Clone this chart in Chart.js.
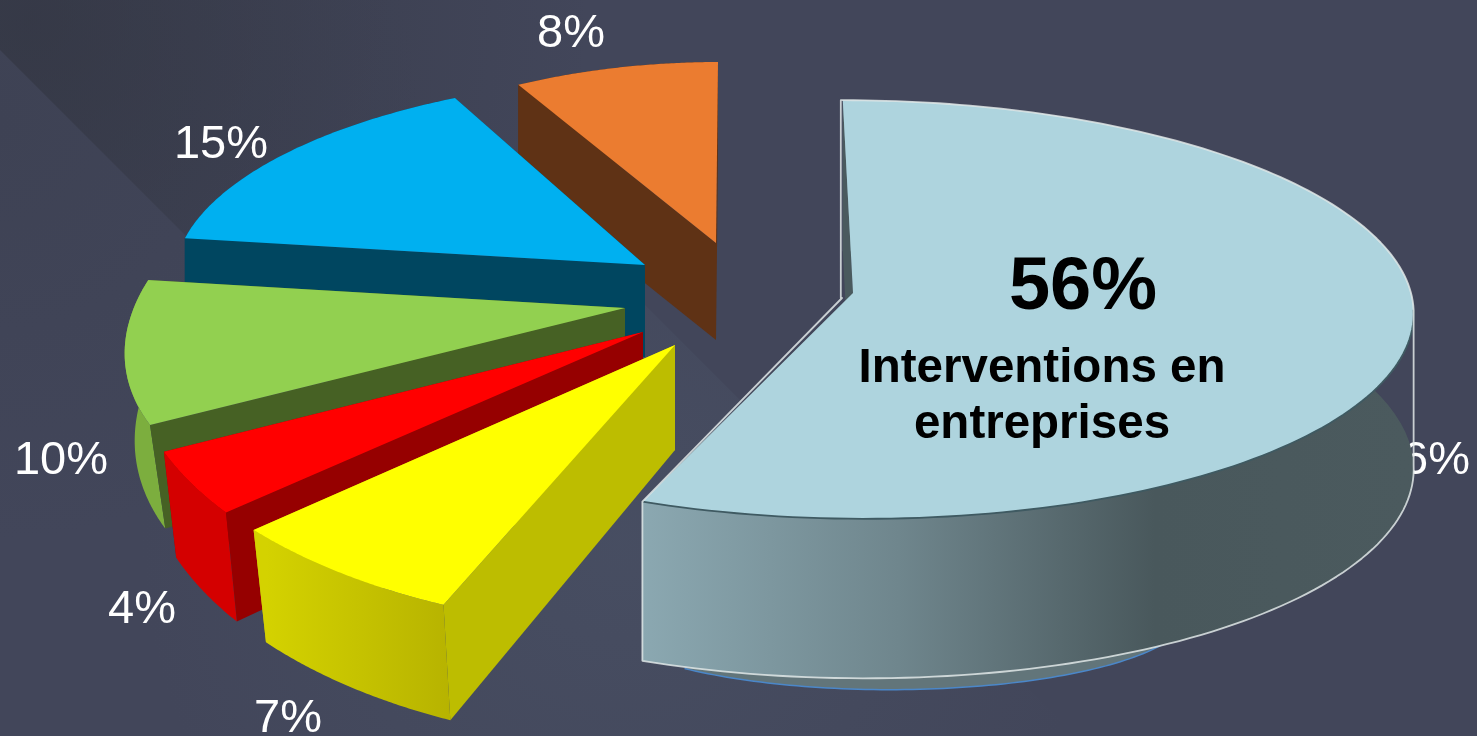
<!DOCTYPE html>
<html>
<head>
<meta charset="utf-8">
<title>Interventions en entreprises</title>
<script src="https://cdn.jsdelivr.net/npm/chart.js@4"></script>
<style>
    html, body { margin: 0; padding: 0; overflow: hidden; }
    body {
        position: relative; width: 1477px; height: 736px;
        background-color: #42465a;
        background-image: radial-gradient(circle 420px at 0 120px, #3e4254, rgba(66,70,90,0));
    }
    /* dark corner top left and the paler wedge behind the slices */
    body::before, body::after { content: ''; position: absolute; left: 0; top: 0; width: 1477px; height: 736px; }
    body::before {
        background: radial-gradient(circle 560px at 30px 20px, rgba(48,51,62,.62), rgba(48,51,62,0));
        clip-path: polygon(0 50px, 500px 550px, 1100px 0, 0 0);
    }
    body::after {
        background: radial-gradient(circle 480px at 620px 540px, rgba(78,88,108,.42), rgba(78,88,108,0));
        clip-path: polygon(600px 260px, 1100px 760px, 0 760px, 0 260px);
    }
    canvas { display: block; position: relative; z-index: 1; }
</style>
</head>
<body>
<canvas id="myChart" width="1477" height="736"></canvas>
<script>
const categories = ['Interventions en entreprises', 'Part 2', 'Part 3', 'Part 4', 'Part 5', 'Part 6'];
const shares = [56, 7, 4, 10, 15, 8];
const faceColors = ['#aed4de', '#ffff00', '#ff0000', '#92d050', '#00b0f0', '#eb7c30'];
const cutColors = ['#4a5a5e', '#bdbd00', '#960000', '#466124', '#004660', '#5f3215'];
const wallColors = [
    ['#8ba8b1', '#6f868d', '#49585c', '#4b5a5e'],
    ['#d4d200', '#b7b300'],
    ['#d40000', '#d40000'],
    ['#7cae3e', '#7cae3e'],
    ['#004660', '#004660'],
    ['#5f3215', '#5f3215']
];

// how each exploded slice sits on the page, the big one has some perspective (k)
const views = [
    { x: 853, y: 293, a: 558, b: 0, c: 11, d: 208, k: 0.0788, drop: 155, la: 558, lc: 11, ys: 1.02 },
    { x: 675, y: 345, a: 548, b: 14, c: -32, d: 285, k: 0, drop: 105, la: 532, lc: -31, ys: 1.04 },
    { x: 643, y: 332, a: 511, b: 20, c: -65, d: 285, k: 0, drop: 100, la: 498, lc: -63, ys: 1.05 },
    { x: 625, y: 308, a: 492, b: -2, c: -91, d: 239, k: 0, drop: 92, la: 485, lc: -72, ys: 1.1 },
    { x: 645, y: 265, a: 469, b: 3, c: -41, d: 189, k: 0, drop: 92, la: 469, lc: -41, ys: 1 },
    { x: 716, y: 243, a: 414, b: -1, c: -2, d: 181, k: 0, drop: 97, la: 414, lc: -2, ys: 1 }
];
const underView = { x: 890, y: 605, a: 300, b: 0, c: 0, d: 78, k: 0.0788, drop: 0, la: 300, lc: 0, ys: 1 };

const labelSpots = [[1423, 461], [288, 719], [142, 610], [61, 461], [221, 145], [571, 34]];

function project(v, angle, lower) {
    const cos = Math.cos(angle), sin = Math.sin(angle);
    const w = 1 - v.k * sin;
    if (lower) {
        return [v.x + (v.la * cos + v.lc * sin) / w, v.y + v.drop + v.ys * (v.b * cos + v.d * sin) / w];
    }
    return [v.x + (v.a * cos + v.c * sin) / w, v.y + (v.b * cos + v.d * sin) / w];
}

function traceArc(ctx, v, from, to, lower, first) {
    const steps = 80;
    for (let i = 0; i <= steps; i++) {
        const p = project(v, from + (to - from) * i / steps, lower);
        if (i === 0 && first) ctx.moveTo(p[0], p[1]);
        else ctx.lineTo(p[0], p[1]);
    }
}

function cutWall(ctx, v, angle, color) {
    const top = project(v, angle, false), bottom = project(v, angle, true);
    ctx.beginPath();
    ctx.moveTo(v.x, v.y);
    ctx.lineTo(top[0], top[1]);
    ctx.lineTo(bottom[0], bottom[1]);
    ctx.lineTo(v.x, v.y + v.drop);
    ctx.closePath();
    ctx.fillStyle = color;
    ctx.fill();
}

function drawSlice(ctx, arc, i) {
    const v = views[i];
    const start = arc.startAngle, end = arc.endAngle;

    cutWall(ctx, v, end, cutColors[i]);

    // curved side, shaded from left to right
    const p0 = project(v, start, true), p1 = project(v, end, true);
    const left = i === 0 ? p1[0] : Math.min(p0[0], p1[0]);
    const right = i === 0 ? v.x + v.a : Math.max(p0[0], p1[0]);
    const grad = ctx.createLinearGradient(left, 0, right, 0);
    wallColors[i].forEach((c, n) => grad.addColorStop(n / (wallColors[i].length - 1), c));
    ctx.beginPath();
    traceArc(ctx, v, start, end, false, true);
    traceArc(ctx, v, end, start, true, false);
    ctx.closePath();
    ctx.fillStyle = grad;
    ctx.fill();

    cutWall(ctx, v, start, cutColors[i]);

    ctx.beginPath();
    ctx.moveTo(v.x, v.y);
    traceArc(ctx, v, start, end, false, false);
    ctx.closePath();
    ctx.fillStyle = arc.options.backgroundColor;
    ctx.fill();
}

// the pasted big slice has a rough pale outline and a dark front rim
function drawBigEdges(ctx, arc) {
    const v = views[0];
    const start = arc.startAngle, end = arc.endAngle, turn = 0.08;
    const pale = 'rgba(225,232,232,.85)';
    ctx.lineWidth = 1.8;
    ctx.lineJoin = 'round';

    ctx.strokeStyle = '#3f5a62';
    ctx.beginPath();
    traceArc(ctx, v, turn, end, false, true);
    ctx.stroke();

    const s0 = project(v, start, false);
    const e0 = project(v, end, false);
    const r1 = project(v, turn, true);

    ctx.strokeStyle = pale;
    ctx.beginPath();
    traceArc(ctx, v, start, turn, false, true);
    ctx.lineTo(r1[0], r1[1]);
    traceArc(ctx, v, turn, end, true, false);
    ctx.lineTo(e0[0], e0[1]);
    ctx.lineTo(v.x - 11, v.y + 5);
    ctx.lineTo(s0[0] - 2, v.y + 5);
    ctx.lineTo(s0[0] - 2, s0[1]);
    ctx.lineTo(s0[0] + 6, s0[1]);
    ctx.stroke();
}

function drawUnderlay(ctx) {
    const from = 0.35, to = 2.27;
    ctx.beginPath();
    traceArc(ctx, underView, from, to, false, true);
    ctx.closePath();
    ctx.fillStyle = '#62757a';
    ctx.fill();
    ctx.beginPath();
    traceArc(ctx, underView, from, to, false, true);
    ctx.strokeStyle = '#4b87c9';
    ctx.lineWidth = 1.5;
    ctx.stroke();
}

const explodedPie = {
    id: 'explodedPie',
    beforeDatasetsDraw(chart) {
        const ctx = chart.ctx;
        const arcs = chart.getDatasetMeta(0).data;
        ctx.save();

        // value labels, the big slice covers part of its own
        ctx.fillStyle = '#ffffff';
        ctx.font = '47px "Liberation Sans", Arial, sans-serif';
        ctx.textAlign = 'center';
        ctx.textBaseline = 'middle';
        shares.forEach((s, i) => ctx.fillText(s + '%', labelSpots[i][0], labelSpots[i][1]));

        // back to front
        for (let i = arcs.length - 1; i >= 1; i--) drawSlice(ctx, arcs[i], i);
        drawUnderlay(ctx);
        drawSlice(ctx, arcs[0], 0);
        drawBigEdges(ctx, arcs[0]);

        ctx.fillStyle = '#000000';
        ctx.font = 'bold 74px "Liberation Sans", Arial, sans-serif';
        ctx.fillText(shares[0] + '%', 1083, 289);
        ctx.font = 'bold 47.5px "Liberation Sans", Arial, sans-serif';
        ctx.fillText('Interventions en', 1042, 369);
        ctx.fillText('entreprises', 1042, 425);
        ctx.restore();
        return false;
    }
};

new Chart(document.getElementById('myChart'), {
    type: 'pie',
    data: {
        labels: categories,
        datasets: [{ data: shares, backgroundColor: faceColors, borderWidth: 0 }]
    },
    options: {
        responsive: false,
        animation: false,
        events: [],
        plugins: { legend: { display: false }, tooltip: { enabled: false } }
    },
    plugins: [explodedPie]
});
</script>
</body>
</html>
